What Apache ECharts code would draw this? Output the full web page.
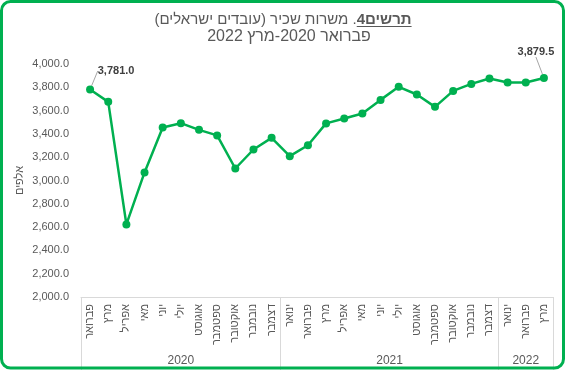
<!DOCTYPE html>
<html><head><meta charset="utf-8">
<script src="https://cdn.jsdelivr.net/npm/echarts@6/dist/echarts.min.js"></script>
<style>html,body{margin:0;padding:0;background:#fff}#c{width:566px;height:370px;direction:rtl}</style>
</head><body><div id="c"></div><script>
// ---- data ----
const months = ['פברואר','מרץ','אפריל','מאי','יוני','יולי','אוגוסט','ספטמבר','אוקטובר','נובמבר','דצמבר',
  'ינואר','פברואר','מרץ','אפריל','מאי','יוני','יולי','אוגוסט','ספטמבר','אוקטובר','נובמבר','דצמבר',
  'ינואר','פברואר','מרץ'];
const years = ['2020','2021','2022'];
const monthsPerYear = [11, 12, 3];
const values = [3781.0, 3675, 2623, 3069, 3455, 3492, 3435, 3387, 3103, 3266, 3366,
  3209, 3303, 3490, 3532, 3575, 3692, 3804, 3738, 3632, 3769, 3829, 3876,
  3841, 3841, 3879.5];
const labelledIdx = [0, 25];
const titleBold = 'תרשים4';
const titleRest = '. משרות שכיר (עובדים ישראלים)';
const subtitle = 'פברואר 2020-מרץ 2022';
const yName = 'אלפים';

// ---- build ----
const F = "'Liberation Sans', Arial, sans-serif";
const GREY = '#595959';
const GREEN = '#00B050';
const fmt = v => Number(v).toLocaleString('en-US', {minimumFractionDigits: 1, maximumFractionDigits: 1});

const N = months.length;
const slots = new Array(2 * N + 1).fill('');
const bounds = new Set();
let s = 0;
monthsPerYear.forEach((cnt, g) => {
  const e = s + cnt;
  slots[s + e] = years[g];
  bounds.add(2 * s); bounds.add(2 * e);
  s = e;
});

const seriesData = values.map((v, i) => labelledIdx.includes(i)
  ? {value: v, label: {show: true}} : v);

// underline width measurement
const TFS = 15;
const mc = document.createElement('canvas').getContext('2d');
mc.direction = 'rtl';
mc.font = 'bold ' + TFS + 'px ' + F;
const wB = mc.measureText(titleBold).width;
mc.font = 'normal ' + TFS + 'px ' + F;
const wA = mc.measureText(titleRest).width;
const tcx = 283;
const W = wA + wB;
const ulX1 = tcx - W / 2 + wA, ulX2 = tcx + W / 2;

const chart = echarts.init(document.getElementById('c'), null, {renderer: 'canvas'});
chart.setOption({
  animation: false,
  backgroundColor: '#fff',
  title: [
    {text: '{a|' + titleRest + '}{b|' + titleBold + '}', left: tcx, top: 12, textAlign: 'center', padding: 0,
     textStyle: {fontWeight: 'normal', fontSize: TFS, fontFamily: F, color: GREY,
       rich: {a: {fontSize: TFS, fontFamily: F, color: GREY, fontWeight: 'normal', lineHeight: 15},
              b: {fontSize: TFS, fontFamily: F, color: GREY, fontWeight: 'bold', lineHeight: 15}}}},
    {text: subtitle, left: 289, top: 29, textAlign: 'center', padding: 0,
     textStyle: {fontSize: 16, fontFamily: F, color: GREY, fontWeight: 'normal', lineHeight: 16}}
  ],
  graphic: [
    {type: 'rect', shape: {x: 1.5, y: 1.5, width: 562, height: 366.5, r: 9}, silent: true,
     style: {fill: 'none', stroke: GREEN, lineWidth: 3}, z: 100},
    {type: 'line', shape: {x1: ulX1, y1: 26.5, x2: ulX2, y2: 26.5}, silent: true,
     style: {stroke: GREY, lineWidth: 1}}
  ],
  grid: {left: 81, right: 13, top: 64, bottom: 73, containLabel: false},
  xAxis: [
    {type: 'category', data: months, boundaryGap: true, position: 'bottom',
     axisLine: {show: true, lineStyle: {color: '#d9d9d9', width: 1}},
     axisTick: {show: false},
     axisLabel: {interval: 0, rotate: 90, fontSize: 11, fontFamily: F, color: GREY, margin: 7}},
    {type: 'category', data: slots, boundaryGap: false, position: 'bottom', offset: 0,
     axisLine: {show: false},
     axisTick: {show: true, length: 73, interval: (i) => bounds.has(i), lineStyle: {color: '#d9d9d9', width: 1}},
     axisLabel: {interval: 0, fontSize: 12, fontFamily: F, color: GREY, margin: 58}}
  ],
  yAxis: {
    type: 'value', min: 2000, max: 4000, interval: 200,
    name: yName, nameLocation: 'middle', nameGap: 56, nameRotate: 90, nameMoveOverlap: false,
    nameTextStyle: {fontSize: 11, fontFamily: F, color: GREY},
    axisLine: {show: false}, axisTick: {show: false}, splitLine: {show: false},
    axisLabel: {formatter: fmt, fontSize: 11, fontFamily: F, color: GREY, margin: 12}
  },
  series: [{
    type: 'line', data: seriesData, xAxisIndex: 0,
    symbol: 'circle', symbolSize: 8,
    lineStyle: {color: GREEN, width: 2.5},
    itemStyle: {color: GREEN},
    label: {show: false, formatter: p => fmt(p.value), fontSize: 11, fontWeight: 'bold', fontFamily: F, color: '#404040'},
    labelLine: {show: true, lineStyle: {color: '#a6a6a6', width: 1}},
    labelLayout: (p) => p.dataIndex === 0 ? {dx: 26, dy: -4} : (p.dataIndex === N - 1 ? {dx: -8, dy: -12} : {})
  }]
});
</script></body></html>
